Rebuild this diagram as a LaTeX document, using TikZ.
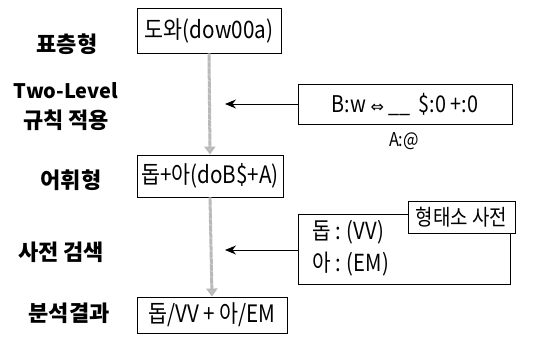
\documentclass[tikz,border=0pt]{standalone}
\usepackage{fontspec}
\setmainfont{Noto Sans CJK KR}
\newfontfamily\narrowfont[FakeStretch=0.86]{Noto Sans CJK KR}
\newfontfamily\symfont{DejaVu Sans}
\usetikzlibrary{arrows.meta}
\begin{document}
\begin{tikzpicture}[x=1pt,y=1pt,
  box/.style={draw=black,line width=0.9pt,fill=white,inner sep=0pt,font=\narrowfont\fontsize{24}{26}\selectfont},
  lab/.style={font=\fontsize{22}{24}\selectfont\bfseries},
  flow/.style={draw=gray!55,line width=3pt,dash pattern=on 1pt off 0.3pt,-{Triangle[width=11pt,length=8pt,fill=gray!45]}},
  feed/.style={draw=black,line width=0.9pt,-{Stealth[length=11pt,width=9pt]}}]
\useasboundingbox (0,0) rectangle (543,-341);
% main boxes
\node[box,minimum width=144pt,minimum height=45pt] (b1) at (209,-30.5) {도와(dow00a)};
\node[box,minimum width=146pt,minimum height=42pt] (b2) at (210,-176) {돕+아(doB\$+A)};
\node[box,minimum width=150pt,minimum height=36pt] (b3) at (212,-315) {돕/VV\,+\,아/EM};
\draw[flow] (b1.south) -- (b2.north);
\draw[flow] (b2.south) -- (b3.north);
% left labels
\node[lab] (l1) at (67,-44) {표층형};
\node[lab,font=\fontsize{20}{22}\selectfont\bfseries] (l2) at (66,-91) {Two-Level};
\node[lab] (l3) at (66,-120) {규칙 적용};
\node[lab] (l4) at (71,-180) {어휘형};
\node[lab] (l5) at (61,-252) {사전 검색};
\node[lab] (l6) at (69,-313) {분석결과};
% rule box
\node[box,minimum width=214pt,minimum height=40pt,font=\narrowfont\fontsize{23}{25}\selectfont] (rb) at (405,-104) {B:w {\symfont\fontsize{16}{18}\selectfont ⇔} \_\_\, \$:0 +:0};
\coordinate (ra) at (225,-104);
\draw[feed] (rb.west) -- (ra);
\node[font=\narrowfont\fontsize{19}{21}\selectfont] (al) at (404,-141) {A:@};
% dictionary
\node[box,minimum width=212pt,minimum height=70pt] (db) at (404,-249) {};
\node[box,minimum width=107pt,minimum height=32pt,font=\narrowfont\fontsize{22}{24}\selectfont] (dl) at (461.5,-217) {형태소 사전};
\node[anchor=west,font=\narrowfont\fontsize{23.5}{25}\selectfont,inner sep=0pt] (d1) at (312,-232) {돕 : (VV)};
\node[anchor=west,font=\narrowfont\fontsize{23.5}{25}\selectfont,inner sep=0pt] (d2) at (312,-264) {아 : (EM)};
\coordinate (da) at (225,-250);
\draw[feed] (db.west |- da) -- (da);
\end{tikzpicture}
\end{document}
